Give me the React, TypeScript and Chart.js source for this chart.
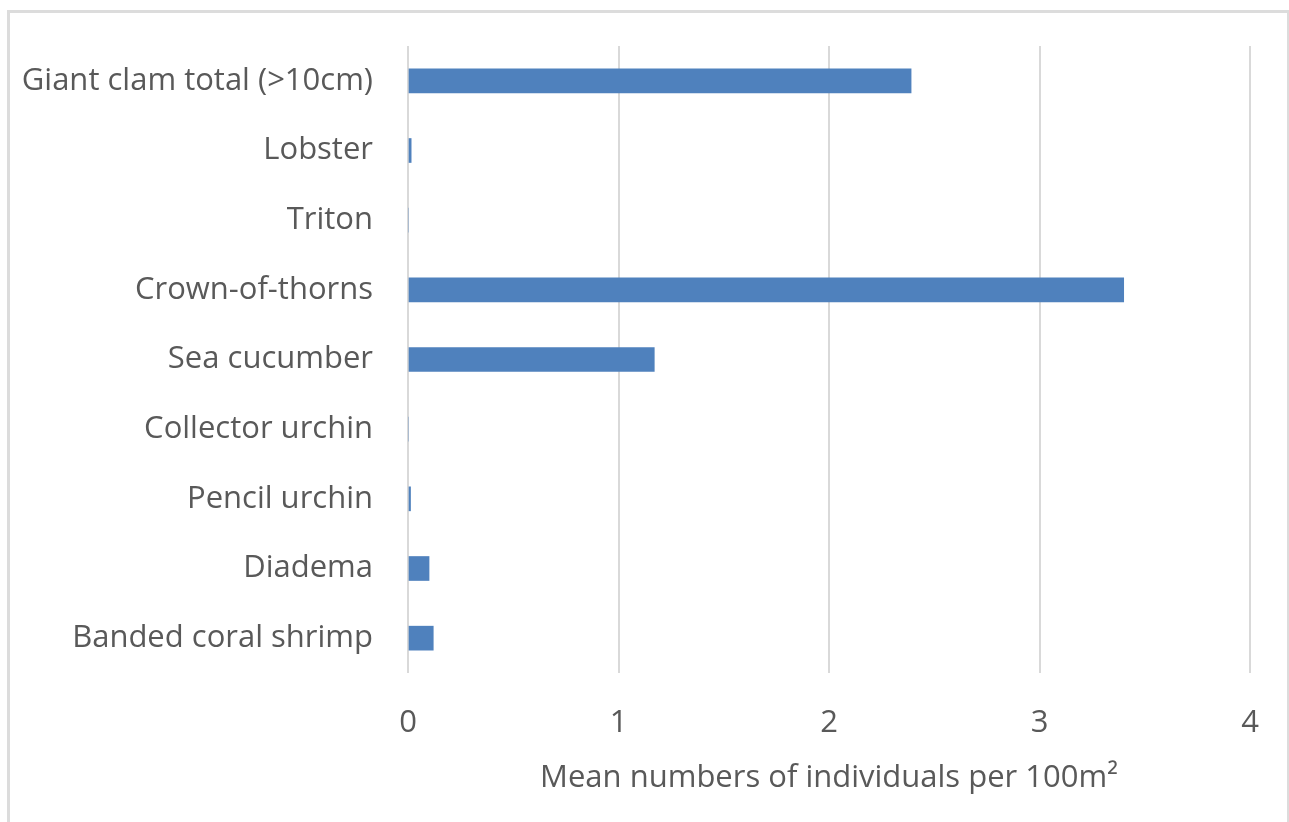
import React, { useEffect, useRef } from "react";
import { Chart, registerables } from "chart.js";

Chart.register(...registerables);

const categories = [
  "Giant clam total (>10cm)",
  "Lobster",
  "Triton",
  "Crown-of-thorns",
  "Sea cucumber",
  "Collector urchin",
  "Pencil urchin",
  "Diadema",
  "Banded coral shrimp",
];
const meanValues = [2.39, 0.015, 0, 3.4, 1.17, 0, 0.012, 0.1, 0.12];
const xTicks = [0, 1, 2, 3, 4];
const xTitle = "Mean numbers of individuals per 100m²";

export default function App() {
  const ref = useRef<HTMLCanvasElement | null>(null);
  useEffect(() => {
    document.body.style.overflow = "hidden";
    const canvas = ref.current;
    if (!canvas) return;
    const fontFamily = "'Open Sans', sans-serif";
    const chart = new Chart(canvas, {
      type: "bar",
      data: {
        labels: categories,
        datasets: [
          {
            data: meanValues,
            backgroundColor: "#4F81BD",
            borderWidth: 0,
            barThickness: 24,
          },
        ],
      },
      options: {
        indexAxis: "y",
        animation: false,
        responsive: false,
        maintainAspectRatio: false,
        layout: { padding: { left: 0, right: 37, top: 33, bottom: 0 } },
        plugins: { legend: { display: false }, tooltip: { enabled: false } },
        scales: {
          x: {
            min: xTicks[0],
            max: xTicks[xTicks.length - 1],
            afterBuildTicks: (scale: any) => {
              scale.ticks = xTicks.map((v) => ({ value: v }));
            },
            afterFit: (scale: any) => {
              scale.height = 130;
              scale.paddingLeft = 0;
              scale.paddingRight = 0;
            },
            grid: { color: "#d9d9d9", lineWidth: 2, drawTicks: false },
            border: { display: false },
            ticks: {
              color: "#595959",
              padding: 32,
              font: { family: fontFamily, size: 31 },
            },
            title: {
              display: true,
              text: xTitle,
              color: "#595959",
              padding: { top: 0, bottom: 6 },
              font: { family: fontFamily, size: 31 },
            },
          },
          y: {
            afterFit: (scale: any) => {
              scale.width = 398;
              scale.paddingTop = 0;
              scale.paddingBottom = 0;
            },
            grid: { display: false, drawTicks: false },
            border: { display: false },
            ticks: {
              color: "#595959",
              padding: 35,
              font: { family: fontFamily, size: 31 },
            },
          },
        },
      },
    });
    return () => chart.destroy();
  }, []);
  return (
    <div
      style={{
        position: "absolute",
        left: 7,
        top: 10,
        width: 1277,
        height: 830,
        borderLeft: "3px solid #dcdcdc",
        borderTop: "3px solid #dcdcdc",
        borderRight: "2px solid #dcdcdc",
        background: "#fff",
      }}
    >
      <canvas ref={ref} width={1277} height={790} style={{ display: "block" }} />
    </div>
  );
}
